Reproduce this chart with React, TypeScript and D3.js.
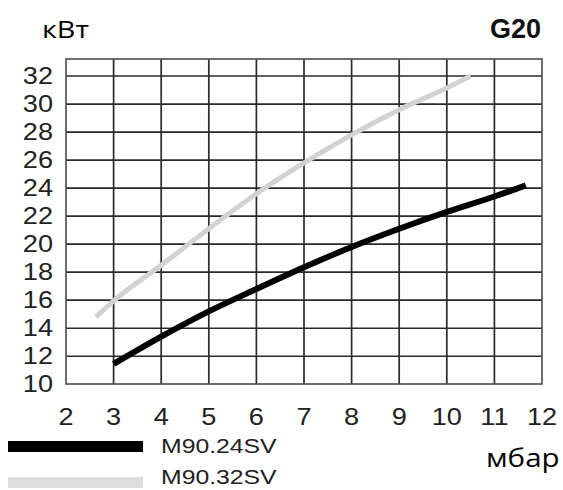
import React from "react";
import * as d3 from "d3";

const xTicks = [2, 3, 4, 5, 6, 7, 8, 9, 10, 11, 12];
const yTicks = [10, 12, 14, 16, 18, 20, 22, 24, 26, 28, 30, 32];

const blackX = [3, 4, 5, 6, 7, 8, 9, 10, 11, 11.66];
const blackY = [11.45, 13.4, 15.2, 16.8, 18.35, 19.8, 21.1, 22.3, 23.4, 24.2];

const grayX = [2.63, 3, 4, 5, 6, 7, 8, 9, 10, 10.5];
const grayY = [14.8, 15.95, 18.5, 21.1, 23.6, 25.8, 27.8, 29.6, 31.15, 32.0];

const seriesNames = ["M90.24SV", "M90.32SV"];
const yUnit = "кВт";
const xUnit = "мбар";
const gasLabel = "G20";

export default function App() {
  const left = 66, right = 542, top = 59, bottom = 384;
  const x = d3.scaleLinear().domain([2, 12]).range([left, right]);
  const y = d3.scaleLinear().domain([10, 32]).range([384.3, 76]);

  const line = d3
    .line<[number, number]>()
    .x((d) => x(d[0]))
    .y((d) => y(d[1]))
    .curve(d3.curveMonotoneX);

  const blackPts = blackX.map((v, i) => [v, blackY[i]] as [number, number]);
  const grayPts = grayX.map((v, i) => [v, grayY[i]] as [number, number]);

  const sx = 1.18;
  const tickFont = "Liberation Sans, Arial, Helvetica, sans-serif";
  const unitFont = "Open Sans, Noto Sans, sans-serif";

  return (
    <svg
      width={563}
      height={490}
      style={{ position: "absolute", left: 0, top: 0, display: "block", background: "#fff" }}
    >
      {/* grid */}
      <g>
        {yTicks.slice(1).map((t) => (
          <line key={"h" + t} x1={left} x2={right} y1={y(t)} y2={y(t)} stroke="#2a2a2a" strokeWidth={1.7} />
        ))}
        {xTicks.slice(1, -1).map((t) => (
          <line key={"v" + t} x1={x(t)} x2={x(t)} y1={top} y2={bottom} stroke="#2a2a2a" strokeWidth={1.7} />
        ))}
        <rect x={left} y={top} width={right - left} height={bottom - top} fill="none" stroke="#555" strokeWidth={1.7} />
      </g>

      {/* series */}
      <path d={line(grayPts) || ""} fill="none" stroke="#d2d2d2" strokeWidth={5} />
      <path d={line(blackPts) || ""} fill="none" stroke="#000" strokeWidth={6} />

      {/* y tick labels */}
      {yTicks.map((t) => (
        <text
          key={"yl" + t}
          transform={`translate(53,${y(t) + 8}) scale(${sx},1)`}
          textAnchor="end"
          fontFamily={tickFont}
          fontSize={23}
          fill="#222"
        >
          {t}
        </text>
      ))}

      {/* x tick labels */}
      {xTicks.map((t) => (
        <text
          key={"xl" + t}
          transform={`translate(${x(t)},425) scale(${sx},1)`}
          textAnchor="middle"
          fontFamily={tickFont}
          fontSize={23}
          fill="#222"
        >
          {t}
        </text>
      ))}

      {/* unit labels */}
      <text transform={`translate(42,38) scale(1.2,1)`} fontFamily={unitFont} fontSize={24} fill="#000">
        {yUnit}
      </text>
      <text x={541} y={38} textAnchor="end" fontFamily={tickFont} fontWeight="bold" fontSize={27} fill="#111">
        {gasLabel}
      </text>
      <text transform={`translate(486,467) scale(1.18,1)`} fontFamily={unitFont} fontSize={25} fill="#000">
        {xUnit}
      </text>

      {/* legend */}
      <rect x={8} y={441} width={135} height={11} fill="#000" />
      <rect x={8} y={477} width={135} height={11} fill="#dedede" />
      <text transform={`translate(161,453) scale(${sx},1)`} fontFamily={tickFont} fontSize={21} fill="#222">
        {seriesNames[0]}
      </text>
      <text transform={`translate(161,484) scale(${sx},1)`} fontFamily={tickFont} fontSize={21} fill="#222">
        {seriesNames[1]}
      </text>
    </svg>
  );
}
